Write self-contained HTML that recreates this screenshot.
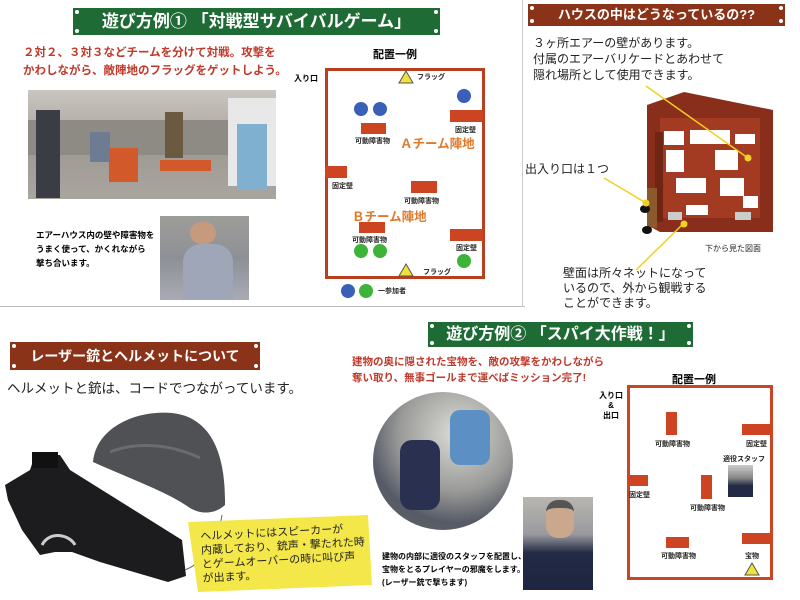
<!DOCTYPE html>
<html><head><meta charset="utf-8"><style>
body{margin:0;width:800px;height:600px;background:#fff;position:relative;overflow:hidden;font-family:"Liberation Sans","Noto Sans CJK JP",sans-serif}
.a{position:absolute;white-space:nowrap}
.bn{position:absolute;color:#fff;font-weight:bold;text-align:center;box-sizing:border-box}
.g{background:#1f6b35}
.br{background:#8b3318}
.red{color:#c0392b;font-weight:bold}
.r{position:absolute;background:#cc4422}
.c{position:absolute;border-radius:50%;width:14px;height:14px}
.s{font-size:7px;font-weight:bold;color:#222}
.d{position:absolute;width:4px;height:4px;border-radius:2px;background:#fff}
</style></head><body>
<div class="a" style="left:0;top:306px;width:525px;height:1px;background:#bbb"></div>
<div class="a" style="left:522px;top:0;width:1px;height:307px;background:#ccc"></div>

<div class="bn g" style="left:73px;top:8px;width:367px;height:27px;font-size:17px;line-height:27px">遊び方例① 「対戦型サバイバルゲーム」</div>
<div class="d" style="left:75px;top:10px"></div><div class="d" style="left:434px;top:10px"></div><div class="d" style="left:75px;top:29px"></div><div class="d" style="left:434px;top:29px"></div>
<div class="a red" style="left:23px;top:44px;font-size:11.5px;line-height:18px">２対２、３対３などチームを分けて対戦。攻撃を<br>かわしながら、敵陣地のフラッグをゲットしよう。</div>
<div class="a" style="left:28px;top:90px;width:248px;height:109px;background:linear-gradient(#c9c6c0 0%,#b5b0a8 30%,#9f9a92 55%,#a9a59f 100%)"></div>
<div class="a" style="left:28px;top:120px;width:200px;height:35px;background:#8e8a84"></div>
<div class="a" style="left:228px;top:98px;width:48px;height:88px;background:#e8e8e8"></div>
<div class="a" style="left:36px;top:110px;width:24px;height:88px;background:#3a3d44"></div>
<div class="a" style="left:90px;top:132px;width:20px;height:30px;background:#6d7c92"></div>
<div class="a" style="left:165px;top:112px;width:18px;height:46px;background:#6b5a40"></div>
<div class="a" style="left:237px;top:124px;width:30px;height:66px;background:#7fb0cf"></div>
<div class="a" style="left:109px;top:148px;width:29px;height:34px;background:#d25a2a"></div>
<div class="a" style="left:160px;top:160px;width:51px;height:11px;background:#d25a2a"></div>
<div class="a" style="left:160px;top:216px;width:89px;height:84px;background:linear-gradient(#9d9d98,#8e9096 50%,#a9aab4)"></div>
<div class="a" style="left:183px;top:244px;width:50px;height:56px;background:#9ea6b8;border-radius:18px 18px 0 0"></div>
<div class="a" style="left:190px;top:222px;width:26px;height:22px;background:#c79a7e;border-radius:12px"></div>
<div class="a" style="left:36px;top:228px;font-size:8.5px;font-weight:bold;line-height:14px">エアーハウス内の壁や障害物を<br>うまく使って、かくれながら<br>撃ち合います。</div>

<div class="a" style="left:373px;top:46px;font-size:11px;font-weight:bold">配置一例</div>
<div class="a" style="left:294px;top:73px;font-size:8px;font-weight:bold">入り口</div>
<div class="a" style="left:325px;top:68px;width:160px;height:211px;border:3px solid #b8401f;box-sizing:border-box"></div>
<svg class="a" style="left:0;top:0" width="800" height="600">
<polygon points="399,83 413,83 406,71" fill="#f0e23a" stroke="#555" stroke-width="1"/>
<polygon points="399,276 413,276 406,264" fill="#f0e23a" stroke="#555" stroke-width="1"/>
<polygon points="745,575 759,575 752,563" fill="#f0e23a" stroke="#555" stroke-width="1"/>
</svg>
<div class="a s" style="left:417px;top:72px">フラッグ</div>
<div class="a s" style="left:423px;top:267px">フラッグ</div>
<div class="c" style="left:354px;top:102px;background:#3a5fb8"></div>
<div class="c" style="left:373px;top:102px;background:#3a5fb8"></div>
<div class="c" style="left:457px;top:89px;background:#3a5fb8"></div>
<div class="c" style="left:354px;top:244px;background:#3db33a"></div>
<div class="c" style="left:373px;top:244px;background:#3db33a"></div>
<div class="c" style="left:457px;top:254px;background:#3db33a"></div>
<div class="c" style="left:341px;top:284px;background:#3a5fb8"></div>
<div class="c" style="left:359px;top:284px;background:#3db33a"></div>
<div class="a s" style="left:378px;top:286px">一参加者</div>
<div class="r" style="left:361px;top:123px;width:25px;height:11px"></div>
<div class="a s" style="left:355px;top:136px">可動障害物</div>
<div class="r" style="left:450px;top:110px;width:33px;height:12px"></div>
<div class="a s" style="left:455px;top:125px">固定壁</div>
<div class="a" style="left:400px;top:133px;font-size:12.5px;font-weight:bold;color:#e07a2a">Ａチーム陣地</div>
<div class="r" style="left:325px;top:166px;width:22px;height:12px"></div>
<div class="a s" style="left:332px;top:181px">固定壁</div>
<div class="r" style="left:411px;top:181px;width:26px;height:12px"></div>
<div class="a s" style="left:404px;top:196px">可動障害物</div>
<div class="a" style="left:352px;top:206px;font-size:12.5px;font-weight:bold;color:#e07a2a">Ｂチーム陣地</div>
<div class="r" style="left:359px;top:222px;width:26px;height:11px"></div>
<div class="a s" style="left:352px;top:235px">可動障害物</div>
<div class="r" style="left:450px;top:229px;width:33px;height:12px"></div>
<div class="a s" style="left:456px;top:243px">固定壁</div>

<div class="bn br" style="left:528px;top:4px;width:257px;height:22px;font-size:13px;line-height:22px">ハウスの中はどうなっているの??</div>
<div class="d" style="left:530px;top:6px"></div><div class="d" style="left:779px;top:6px"></div><div class="d" style="left:530px;top:19px"></div><div class="d" style="left:779px;top:19px"></div>
<div class="a" style="left:533px;top:35px;font-size:12px;line-height:16px;color:#222">３ヶ所エアーの壁があります。<br>付属のエアーバリケードとあわせて<br>隠れ場所として使用できます。</div>
<svg class="a" style="left:0;top:0" width="800" height="600">
<polygon points="647,105 684,92 773,110 773,232 660,232 647,225" fill="#8a2e1c"/>
<rect x="660" y="118" width="100" height="100" fill="#a33a22"/>
<g fill="#fff">
<rect x="664" y="131" width="20" height="14"/><rect x="690" y="130" width="40" height="14"/><rect x="735" y="134" width="20" height="10"/>
<rect x="666" y="150" width="18" height="22"/><rect x="715" y="150" width="23" height="20"/>
<rect x="676" y="178" width="30" height="15"/><rect x="720" y="178" width="24" height="18"/>
<rect x="686" y="205" width="22" height="10"/><rect x="743" y="196" width="15" height="12"/>
</g>
<rect x="668" y="212" width="14" height="8" fill="#ccc"/><rect x="735" y="212" width="16" height="8" fill="#ccc"/>
<rect x="655" y="132" width="8" height="90" fill="#6f2414"/>
<rect x="647" y="188" width="10" height="40" fill="#8a5a2e"/>
<ellipse cx="645" cy="209" rx="5" ry="4" fill="#111"/><ellipse cx="647" cy="230" rx="5" ry="4" fill="#111"/>
<g stroke="#f0d020" stroke-width="1.5" fill="none">
<line x1="646" y1="86" x2="748" y2="158"/><line x1="604" y1="178" x2="646" y2="203"/><line x1="682" y1="225" x2="636" y2="270"/>
</g>
<circle cx="748" cy="158" r="3.5" fill="#f0d020"/><circle cx="646" cy="203" r="3.5" fill="#f0d020"/><circle cx="684" cy="224" r="3.5" fill="#f0d020"/>
</svg>
<div class="a" style="left:525px;top:160px;font-size:12px;color:#222">出入り口は１つ</div>
<div class="a" style="left:705px;top:243px;font-size:8px;color:#222">下から見た図面</div>
<div class="a" style="left:563px;top:266px;font-size:12px;line-height:15px;color:#222">壁面は所々ネットになって<br>いるので、外から観戦する<br>ことができます。</div>

<div class="bn br" style="left:10px;top:342px;width:250px;height:28px;font-size:14px;line-height:28px">レーザー銃とヘルメットについて</div>
<div class="d" style="left:12px;top:344px"></div><div class="d" style="left:254px;top:344px"></div><div class="d" style="left:12px;top:364px"></div><div class="d" style="left:254px;top:364px"></div>
<div class="a" style="left:7px;top:377px;font-size:13.5px;color:#222">ヘルメットと銃は、コードでつながっています。</div>
<svg class="a" style="left:0;top:0" width="800" height="600">
<path d="M93,462 C96,428 135,410 172,413 C210,417 226,452 225,505 C214,515 200,514 190,508 C168,492 128,478 93,462 Z" fill="#505155"/>
<path d="M110,452 C140,440 175,446 200,458" stroke="#6a6b6e" stroke-width="3" fill="none"/>
<path d="M5,485 L30,470 L35,455 L60,455 L70,470 L182,540 L186,576 L168,582 L100,562 L72,552 L55,552 L40,555 L22,530 L8,500 Z" fill="#1c1c1e"/>
<rect x="32" y="452" width="26" height="16" fill="#111"/>
<path d="M42,545 C50,530 70,535 75,545" stroke="#ccc" stroke-width="3" fill="none"/>
<path d="M185,570 C210,560 220,530 222,515" stroke="#666" fill="none"/>
<polygon points="188,522 368,515 372,585 198,592" fill="#f4e74a"/>
</svg>
<div class="a" style="left:200px;top:530px;font-size:11px;line-height:14px;color:#222;transform:rotate(-3deg);transform-origin:left top">ヘルメットにはスピーカーが<br>内蔵しており、銃声・撃たれた時<br>とゲームオーバーの時に叫び声<br>が出ます。</div>

<div class="bn g" style="left:428px;top:322px;width:265px;height:25px;font-size:16px;line-height:25px">遊び方例② 「スパイ大作戦！」</div>
<div class="d" style="left:430px;top:324px"></div><div class="d" style="left:687px;top:324px"></div><div class="d" style="left:430px;top:341px"></div><div class="d" style="left:687px;top:341px"></div>
<div class="a red" style="left:352px;top:354px;font-size:10.5px;line-height:16px">建物の奥に隠された宝物を、敵の攻撃をかわしながら<br>奪い取り、無事ゴールまで運べばミッション完了!</div>
<div class="a" style="left:373px;top:392px;width:140px;height:138px;border-radius:50%;background:radial-gradient(circle at 60% 30%,#dcdcd8,#9a9a98 45%,#555a66 70%,#6b6a60)"></div>
<div class="a" style="left:400px;top:440px;width:40px;height:70px;background:#2a3050;border-radius:12px"></div>
<div class="a" style="left:450px;top:410px;width:40px;height:55px;background:#5c8fc4;border-radius:10px"></div>
<div class="a" style="left:523px;top:497px;width:70px;height:93px;background:linear-gradient(#b9b6b0,#9a9aa0 40%,#232a45 60%,#1e2540)"></div>
<div class="a" style="left:546px;top:500px;width:28px;height:30px;background:#c9a88e;border-radius:12px;border-top:8px solid #555"></div>
<div class="a" style="left:382px;top:550px;font-size:8px;font-weight:bold;line-height:13px">建物の内部に適役のスタッフを配置し、<br>宝物をとるプレイヤーの邪魔をします。<br>(レーザー銃で撃ちます)</div>

<div class="a" style="left:672px;top:371px;font-size:11px;font-weight:bold">配置一例</div>
<div class="a" style="left:599px;top:391px;font-size:8px;font-weight:bold;line-height:10px;text-align:center">入り口<br>&amp;<br>出口</div>
<div class="a" style="left:627px;top:385px;width:146px;height:195px;border:3px solid #cc4422;box-sizing:border-box"></div>
<div class="r" style="left:666px;top:412px;width:11px;height:23px"></div>
<div class="a s" style="left:655px;top:439px">可動障害物</div>
<div class="r" style="left:742px;top:424px;width:31px;height:11px"></div>
<div class="a s" style="left:746px;top:439px">固定壁</div>
<div class="a s" style="left:723px;top:454px">適役スタッフ</div>
<div class="a" style="left:728px;top:465px;width:25px;height:32px;background:linear-gradient(#ccc,#888 40%,#232a45 65%)"></div>
<div class="r" style="left:627px;top:475px;width:21px;height:11px"></div>
<div class="a s" style="left:629px;top:490px">固定壁</div>
<div class="r" style="left:701px;top:475px;width:11px;height:24px"></div>
<div class="a s" style="left:690px;top:503px">可動障害物</div>
<div class="r" style="left:666px;top:537px;width:23px;height:11px"></div>
<div class="a s" style="left:661px;top:551px">可動障害物</div>
<div class="r" style="left:742px;top:533px;width:31px;height:11px"></div>
<div class="a s" style="left:745px;top:551px">宝物</div>
</body></html>
